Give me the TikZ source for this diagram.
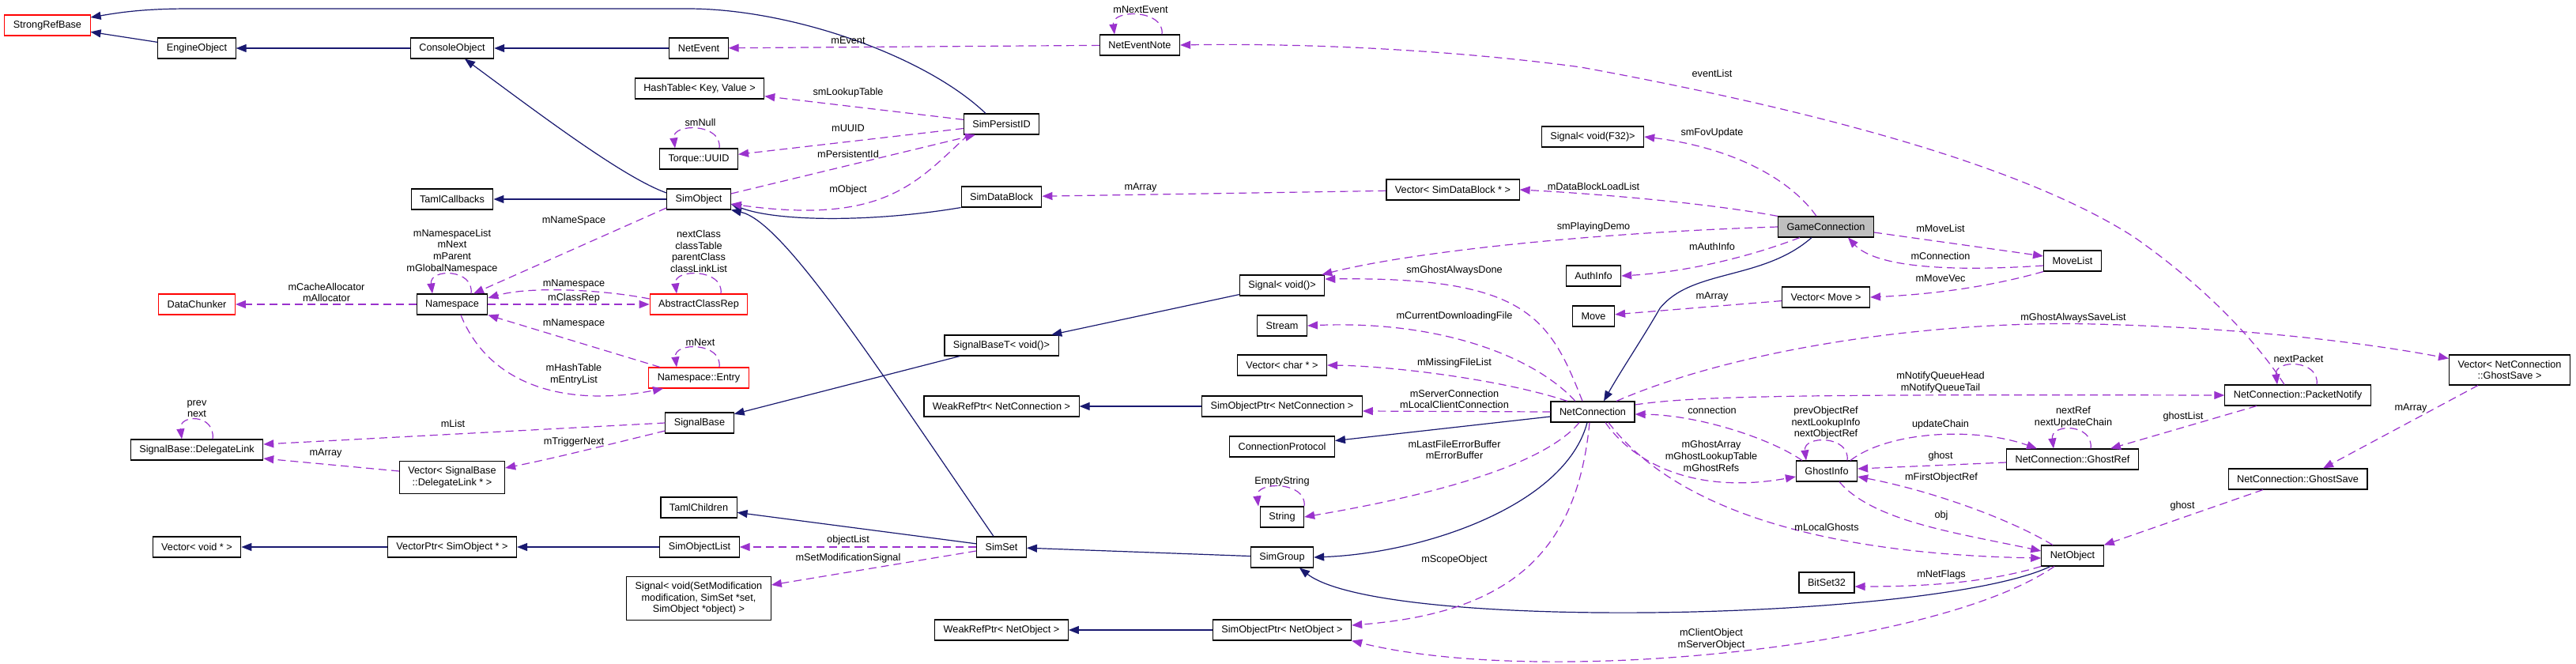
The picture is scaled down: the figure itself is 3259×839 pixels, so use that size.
\documentclass[tikz,border=0pt]{standalone}
\usepackage{fontspec}
\setmainfont{Liberation Sans}
\usetikzlibrary{arrows.meta}
\definecolor{inhcol}{HTML}{191970}
\definecolor{usecol}{HTML}{9A32CD}
\definecolor{curcol}{HTML}{BFBFBF}
\newcommand{\dxfont}{\fontsize{12.7}{14.6}\selectfont}
\tikzset{
  cls/.style={draw=black, line width=1.1pt, fill=white, inner xsep=11pt, inner ysep=7pt,
    minimum height=26pt, align=center, font=\dxfont},
  redcls/.style={cls, draw=red},
  curcls/.style={cls, fill=curcol},
  lbl/.style={inner sep=0pt, align=center, font=\dxfont},
  inherit/.style={draw=inhcol, line width=1.2pt, -{Triangle[length=13pt,width=10pt]}},
  usage/.style={draw=usecol, line width=1.2pt, dash pattern=on 10pt off 6pt,
    -{Triangle[length=13pt,width=10pt]}}
}
\begin{document}
\begin{tikzpicture}[x=1pt,y=-1pt]
\path[use as bounding box, fill=white] (0,0) rectangle (3259,839);

% classes
\node[redcls] (strongref) at (60,32) {StrongRefBase};
\node[cls] (engineobj) at (249,61) {EngineObject};
\node[cls] (consoleobj) at (572,61) {ConsoleObject};
\node[cls] (netevent) at (884,61) {NetEvent};
\node[cls] (neteventnote) at (1442,57) {NetEventNote};
\node[cls] (hashtable) at (885,112) {HashTable< Key, Value >};
\node[cls] (simpersist) at (1267,157) {SimPersistID};
\node[cls] (uuid) at (884,201) {Torque::UUID};
\node[cls] (tamlcb) at (572,252) {TamlCallbacks};
\node[cls] (simobject) at (884,252) {SimObject};
\node[cls] (simdatablock) at (1267,249) {SimDataBlock};
\node[redcls] (datachunker) at (249,385) {DataChunker};
\node[cls] (namespace) at (572,385) {Namespace};
\node[redcls] (classrep) at (884,385) {AbstractClassRep};
\node[redcls] (nsentry) at (884,478) {Namespace::Entry};
\node[cls] (signalbase) at (885,535) {SignalBase};
\node[cls] (signalbaset) at (1267,437) {SignalBaseT< void()>};
\node[cls] (signalvoid) at (1622,361) {Signal< void()>};
\node[cls] (stream) at (1622,412) {Stream};
\node[cls] (vecchar) at (1622,462) {Vector< char * >};
\node[cls] (weakrefnc) at (1267,514) {WeakRefPtr< NetConnection >};
\node[cls] (simobjptrnc) at (1622,514) {SimObjectPtr< NetConnection >};
\node[cls] (connproto) at (1622,565) {ConnectionProtocol};
\node[cls] (string) at (1622,654) {String};
\node[cls] (simgroup) at (1622,705) {SimGroup};
\node[cls] (simobjptrno) at (1622,797) {SimObjectPtr< NetObject >};
\node[cls] (weakrefno) at (1267,797) {WeakRefPtr< NetObject >};
\node[cls] (delegatelink) at (249,569) {SignalBase::DelegateLink};
\node[cls] (vecdelegate) at (572,604) {Vector< SignalBase\\::DelegateLink * >};
\node[cls] (vecvoid) at (249,692) {Vector< void * >};
\node[cls] (vectorptr) at (572,692) {VectorPtr< SimObject * >};
\node[cls] (tamlchildren) at (884,642) {TamlChildren};
\node[cls] (simobjlist) at (885,692) {SimObjectList};
\node[cls] (simset) at (1267,692) {SimSet};
\node[cls] (signalsetmod) at (884,757) {Signal< void(SetModification\\modification, SimSet *set,\\SimObject *object) >};
\node[cls] (signalf32) at (2015,173) {Signal< void(F32)>};
\node[cls] (vecdatablock) at (1838,240) {Vector< SimDataBlock * >};
\node[curcls] (gameconn) at (2310,287) {GameConnection};
\node[cls] (authinfo) at (2016,349) {AuthInfo};
\node[cls] (vecmove) at (2310,376) {Vector< Move >};
\node[cls] (move) at (2016,400) {Move};
\node[cls] (movelist) at (2622,330) {MoveList};
\node[cls] (netconn) at (2015,521) {NetConnection};
\node[cls] (ghostinfo) at (2311,596) {GhostInfo};
\node[cls] (bitset) at (2311,737) {BitSet32};
\node[cls] (packetnotify) at (2907,500) {NetConnection::PacketNotify};
\node[cls] (vecghostsave) at (3175,468) {Vector< NetConnection\\::GhostSave >};
\node[cls] (ghostref) at (2622,581) {NetConnection::GhostRef};
\node[cls] (ghostsave) at (2907,606) {NetConnection::GhostSave};
\node[cls] (netobject) at (2622,703) {NetObject};

% inheritance
\draw[inherit] (engineobj) -- (strongref);
\draw[inherit] ([xshift=-20pt]simpersist.north) .. controls (1170,70) and (1000,11) .. (870,11) -- (240,11) .. controls (180,11) and (150,16) .. ([yshift=10pt]strongref.east);
\draw[inherit] (consoleobj) -- (engineobj);
\draw[inherit] (netevent) -- (consoleobj);
\draw[inherit] ([yshift=8pt]simobject.west) .. controls (790,225) and (690,150) .. ([xshift=16pt]consoleobj.south);
\draw[inherit] (simobject) -- (tamlcb);
\draw[inherit] (simdatablock.south west) .. controls (1100,282) and (980,280) .. ([yshift=-6pt]simobject.east);
\draw[inherit] ([xshift=-10pt]simset.north) .. controls (1100,450) and (990,280) .. (simobject.south east);
\draw[inherit] (signalbaset) -- (signalbase);
\draw[inherit] (signalvoid) -- (signalbaset);
\draw[inherit] (simobjptrnc) -- (weakrefnc);
\draw[inherit] (netconn) -- (connproto);
\draw[inherit] ([xshift=-7pt]netconn.south) .. controls (1980,640) and (1800,700) .. (simgroup.east);
\draw[inherit] ([xshift=-18pt]gameconn.south) .. controls (2230,355) and (2140,340) .. (2100,390) .. controls (2080,425) and (2050,470) .. ([xshift=14pt]netconn.north);
\draw[inherit] (simgroup) -- (simset);
\draw[inherit] (simset) -- (tamlchildren);
\draw[inherit] (simobjlist) -- (vectorptr);
\draw[inherit] (vectorptr) -- (vecvoid);
\draw[inherit] (simobjptrno) -- (weakrefno);
\draw[inherit] ([xshift=-28pt]netobject.south) .. controls (2450,785) and (1750,800) .. ([xshift=22pt]simgroup.south);

% usage, upper part
\draw[usage] (neteventnote) -- (netevent);
\draw[usage] ([xshift=28pt]neteventnote.north) .. controls ([xshift=32pt,yshift=32pt]neteventnote.north) and ([xshift=-36pt,yshift=32pt]neteventnote.north) .. ([xshift=-32pt]neteventnote.north);
\draw[usage] ([xshift=-17pt]packetnotify.north) .. controls (2860,440) and (2800,370) .. (2700,300) .. controls (2560,210) and (2300,140) .. (2000,85) .. controls (1800,58) and (1600,55) .. (neteventnote.east);
\draw[usage] (simpersist) -- (hashtable);
\draw[usage] (simpersist) -- (uuid);
\draw[usage] ([xshift=26pt]uuid.north) .. controls ([xshift=30pt,yshift=32pt]uuid.north) and ([xshift=-34pt,yshift=32pt]uuid.north) .. ([xshift=-30pt]uuid.north);
\draw[usage] ([yshift=7pt]simobject.east) -- ([xshift=-33pt]simpersist.south);
\draw[usage] ([xshift=-42pt]simpersist.south) .. controls (1160,230) and (1120,285) .. ([yshift=-6pt]simobject.east);
\draw[usage] (vecdatablock) -- (simdatablock);
\draw[usage] ([xshift=-12pt]gameconn.north) .. controls (2260,220) and (2180,185) .. (signalf32.east);
\draw[usage] (gameconn.north west) .. controls (2150,255) and (2000,244) .. (vecdatablock.east);
\draw[usage] (gameconn.west) .. controls (2000,295) and (1780,320) .. ([xshift=-4pt]signalvoid.north east);
\draw[usage] ([xshift=-33pt]gameconn.south) .. controls (2200,330) and (2120,345) .. (authinfo.east);
\draw[usage] ([yshift=-7pt]gameconn.east) -- ([yshift=6pt]movelist.west);
\draw[usage] ([yshift=-6pt]movelist.west) .. controls (2450,345) and (2370,335) .. ([xshift=28pt]gameconn.south);
\draw[usage] (movelist.south west) .. controls (2520,362) and (2450,372) .. (vecmove.east);
\draw[usage] (vecmove) -- (move);

% usage, round NetConnection
\draw[usage] ([xshift=-13pt]netconn.north) .. controls (1960,400) and (1930,350) .. ([yshift=8pt]signalvoid.east);
\draw[usage] ([xshift=-22pt]netconn.north) .. controls (1940,450) and (1820,405) .. (stream.east);
\draw[usage] ([xshift=-32pt]netconn.north) .. controls (1900,480) and (1760,463) .. (vecchar.east);
\draw[usage] (netconn.west) -- ([yshift=-6pt]simobjptrnc.east);
\draw[usage] ([xshift=-17pt]netconn.south) .. controls (1960,580) and (1850,620) .. (string.east);
\draw[usage] ([xshift=28pt]string.north) .. controls ([xshift=32pt,yshift=32pt]string.north) and ([xshift=-34pt,yshift=32pt]string.north) .. ([xshift=-30pt]string.north);
\draw[usage] ([xshift=-4pt]netconn.south) .. controls (1995,700) and (1910,775) .. ([yshift=6pt]simobjptrno.east);
\draw[usage] ([xshift=-23pt]netobject.south) .. controls (2450,820) and (1950,870) .. (simobjptrno.south east);
\draw[usage] ([yshift=9pt]netconn.east) .. controls (2150,500) and (2300,499) .. (packetnotify.west);
\draw[usage] ([xshift=30pt]netconn.north) .. controls (2200,440) and (2450,405) .. (2650,410) .. controls (2850,415) and (3000,435) .. ([yshift=-5pt]vecghostsave.north west);
\draw[usage] ([xshift=8pt]ghostinfo.north west) .. controls (2240,555) and (2150,525) .. ([yshift=-3pt]netconn.east);
\draw[usage] ([xshift=16pt]netconn.south) .. controls (2070,590) and (2150,625) .. ([yshift=-7pt]ghostinfo.west);
\draw[usage] ([xshift=26pt]ghostinfo.north) .. controls ([xshift=30pt,yshift=32pt]ghostinfo.north) and ([xshift=-30pt,yshift=32pt]ghostinfo.north) .. ([xshift=-26pt]ghostinfo.north);
\draw[usage] ([xshift=30pt]ghostinfo.north) .. controls (2390,545) and (2500,540) .. ([xshift=-45pt]ghostref.north);
\draw[usage] ([yshift=-4pt]ghostref.west) -- ([yshift=3pt]ghostinfo.east);
\draw[usage] ([xshift=-25pt]netobject.north) .. controls (2540,655) and (2440,620) .. ([yshift=-7pt]ghostinfo.east);
\draw[usage] ([xshift=16pt]ghostinfo.south) .. controls (2370,660) and (2480,675) .. ([yshift=6pt]netobject.west);
\draw[usage] ([xshift=20pt]netconn.south) .. controls (2100,620) and (2250,700) .. ([yshift=-3pt]netobject.west);
\draw[usage] (netobject.south west) .. controls (2520,735) and (2450,742) .. ([yshift=-5pt]bitset.east);
\draw[usage] ([xshift=23pt]ghostref.north) .. controls ([xshift=27pt,yshift=32pt]ghostref.north) and ([xshift=-28pt,yshift=32pt]ghostref.north) .. ([xshift=-24pt]ghostref.north);
\draw[usage] ([xshift=-52pt]packetnotify.south) -- ([xshift=48pt]ghostref.north);
\draw[usage] ([xshift=-40pt]vecghostsave.south) -- ([xshift=32pt]ghostsave.north);
\draw[usage] ([xshift=-44pt]ghostsave.south) -- (netobject.north east);
\draw[usage] ([xshift=24pt]packetnotify.north) .. controls ([xshift=28pt,yshift=32pt]packetnotify.north) and ([xshift=-30pt,yshift=32pt]packetnotify.north) .. ([xshift=-26pt]packetnotify.north);

% usage, left part
\draw[usage] ([yshift=-11pt]simobject.west) -- ([xshift=27pt]namespace.north);
\draw[usage] ([xshift=24pt]namespace.north) .. controls ([xshift=28pt,yshift=32pt]namespace.north) and ([xshift=-29pt,yshift=32pt]namespace.north) .. ([xshift=-25pt]namespace.north);
\draw[usage] (namespace) -- (datachunker);
\draw[usage] ([yshift=7pt]classrep.west) .. controls (760,366) and (670,362) .. ([yshift=8pt]namespace.east);
\draw[usage] (namespace) -- (classrep);
\draw[usage] ([xshift=28pt]classrep.north) .. controls ([xshift=32pt,yshift=32pt]classrep.north) and ([xshift=-32pt,yshift=32pt]classrep.north) .. ([xshift=-28pt]classrep.north);
\draw[usage] ([xshift=-49pt]nsentry.north) -- (namespace.south east);
\draw[usage] ([xshift=11pt]namespace.south) .. controls (620,490) and (720,515) .. ([xshift=-45pt]nsentry.south);
\draw[usage] ([xshift=26pt]nsentry.north) .. controls ([xshift=30pt,yshift=32pt]nsentry.north) and ([xshift=-32pt,yshift=32pt]nsentry.north) .. ([xshift=-28pt]nsentry.north);
\draw[usage] (signalbase.west) -- ([yshift=7pt]delegatelink.east);
\draw[usage] ([yshift=-10pt]signalbase.west) .. controls (780,560) and (700,580) .. ([yshift=12pt]vecdelegate.east);
\draw[usage] ([yshift=8pt]vecdelegate.west) -- ([yshift=-11pt]delegatelink.east);
\draw[usage] ([xshift=20pt]delegatelink.north) .. controls ([xshift=24pt,yshift=32pt]delegatelink.north) and ([xshift=-23pt,yshift=32pt]delegatelink.north) .. ([xshift=-19pt]delegatelink.north);
\draw[usage] (simset) -- (simobjlist);
\draw[usage] ([yshift=-5pt]simset.west) -- ([yshift=17pt]signalsetmod.east);

% member labels
\node[lbl] (lmevent) at (1073,51) {mEvent};
\node[lbl] (lmnextevent) at (1443,12) {mNextEvent};
\node[lbl] (leventlist) at (2166,93) {eventList};
\node[lbl] (lsmlookup) at (1073,117) {smLookupTable};
\node[lbl] (lmuuid) at (1073,162) {mUUID};
\node[lbl] (lsmnull) at (886,155) {smNull};
\node[lbl] (lmpersist) at (1073,195) {mPersistentId};
\node[lbl] (lmobject) at (1073,240) {mObject};
\node[lbl] (lmarraydb) at (1443,237) {mArray};
\node[lbl] (lsmfov) at (2166,168) {smFovUpdate};
\node[lbl] (lmdbload) at (2016,236) {mDataBlockLoadList};
\node[lbl] (lsmplaying) at (2016,287) {smPlayingDemo};
\node[lbl] (lmauth) at (2166,312) {mAuthInfo};
\node[lbl] (lmmovelist) at (2455,289) {mMoveList};
\node[lbl] (lmconn) at (2455,324) {mConnection};
\node[lbl] (lmmovevec) at (2455,352) {mMoveVec};
\node[lbl] (lmarraymove) at (2166,375) {mArray};
\node[lbl] (lsmghostdone) at (1840,342) {smGhostAlwaysDone};
\node[lbl] (lmcurdl) at (1840,400) {mCurrentDownloadingFile};
\node[lbl] (lmmissing) at (1840,459) {mMissingFileList};
\node[lbl] (lmserverconn) at (1840,505) {mServerConnection\\mLocalClientConnection};
\node[lbl] (lmerrbuf) at (1840,569) {mLastFileErrorBuffer\\mErrorBuffer};
\node[lbl] (lemptystr) at (1622,609) {EmptyString};
\node[lbl] (lmscope) at (1840,708) {mScopeObject};
\node[lbl] (lmclientobj) at (2165,809) {mClientObject\\mServerObject};
\node[lbl] (lmnotify) at (2455,484) {mNotifyQueueHead\\mNotifyQueueTail};
\node[lbl] (lmghostsavelist) at (2623,402) {mGhostAlwaysSaveList};
\node[lbl] (lconnection) at (2166,519) {connection};
\node[lbl] (lghostinfoself) at (2310,535) {prevObjectRef\\nextLookupInfo\\nextObjectRef};
\node[lbl] (lmghostarray) at (2165,577) {mGhostArray\\mGhostLookupTable\\mGhostRefs};
\node[lbl] (lupdatechain) at (2455,537) {updateChain};
\node[lbl] (lghost) at (2455,577) {ghost};
\node[lbl] (lmfirstobj) at (2456,604) {mFirstObjectRef};
\node[lbl] (lobj) at (2456,652) {obj};
\node[lbl] (lmlocalghosts) at (2311,667) {mLocalGhosts};
\node[lbl] (lmnetflags) at (2456,727) {mNetFlags};
\node[lbl] (lnextpacket) at (2908,454) {nextPacket};
\node[lbl] (lghostrefself) at (2623,528) {nextRef\\nextUpdateChain};
\node[lbl] (lghostlist) at (2762,527) {ghostList};
\node[lbl] (lmarraygs) at (3050,516) {mArray};
\node[lbl] (lghostsave) at (2761,640) {ghost};
\node[lbl] (lmnamespaceso) at (726,279) {mNameSpace};
\node[lbl] (lnsself) at (572,318) {mNamespaceList\\mNext\\mParent\\mGlobalNamespace};
\node[lbl] (lmalloc) at (413,370) {mCacheAllocator\\mAllocator};
\node[lbl] (lmnamespacecr) at (726,359) {mNamespace};
\node[lbl] (lmclassrep) at (726,377) {mClassRep};
\node[lbl] (lcrself) at (884,318) {nextClass\\classTable\\parentClass\\classLinkList};
\node[lbl] (lmnamespaceen) at (726,409) {mNamespace};
\node[lbl] (lmhashtable) at (726,474) {mHashTable\\mEntryList};
\node[lbl] (lmnext) at (886,433) {mNext};
\node[lbl] (lmlist) at (573,536) {mList};
\node[lbl] (lmtrigger) at (726,559) {mTriggerNext};
\node[lbl] (lmarraydl) at (412,573) {mArray};
\node[lbl] (ldlself) at (249,517) {prev\\next};
\node[lbl] (lobjectlist) at (1073,683) {objectList};
\node[lbl] (lmsetmod) at (1073,706) {mSetModificationSignal};
\end{tikzpicture}
\end{document}
